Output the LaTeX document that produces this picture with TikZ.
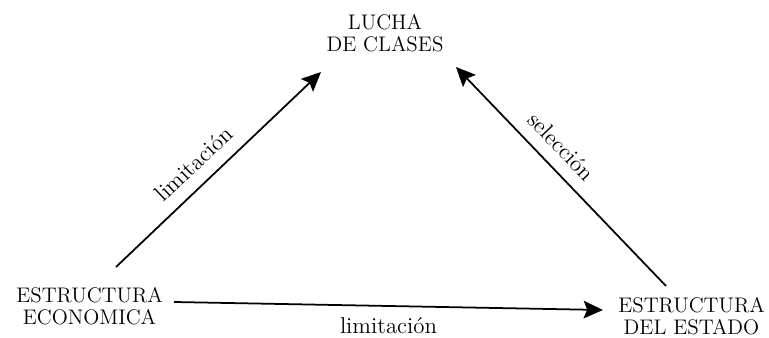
\documentclass[tikz,border=0pt]{standalone}
\usepackage{tikz}
\usetikzlibrary{arrows.meta,positioning,calc}
\tikzset{>=Stealth}
\tikzset{
  bloque/.style={align=center, inner sep=0pt, font=\fontsize{12}{12.5}\selectfont},
  etiqueta/.style={inner sep=3pt, font=\fontsize{13}{13.5}\selectfont},
  flecha/.style={->, line width=1pt, >={Stealth[length=11pt,width=10pt,inset=2pt]}}
}

\begin{document}
\begin{tikzpicture}[x=0.02cm, y=0.02cm]
\useasboundingbox (0,0) rectangle (769,338);

% Los tres bloques del triangulo
\node[bloque] (lucha) at (385,305) {LUCHA\\DE CLASES};
\node[bloque] (economica) at (89.5,32) {ESTRUCTURA\\ECONOMICA};
\node[bloque] (estado) at (691.5,21.5) {ESTRUCTURA\\DEL ESTADO};

% Extremos de las flechas (desplazados respecto a los bloques)
\coordinate (ecoArriba) at ($(economica)+(26.5,39)$);
\coordinate (ecoDerecha) at ($(economica)+(84.5,4)$);
\coordinate (estadoArriba) at ($(estado)+(-25.5,30.5)$);
\coordinate (estadoIzq) at ($(estado)+(-88.5,6.5)$);
\coordinate (luchaIzq) at ($(lucha)+(-64,-39)$);
\coordinate (luchaDer) at ($(lucha)+(71,-34)$);

% Flechas con sus rotulos
\draw[flecha] (ecoArriba) -- node[etiqueta, sloped, above=4pt, pos=0.45] {limitación} (luchaIzq);
\draw[flecha] (estadoArriba) -- node[etiqueta, sloped, above=4pt, pos=0.57] {selección} (luchaDer);
\draw[flecha] (ecoDerecha) -- node[etiqueta, below=3pt, pos=0.5] {limitación} (estadoIzq);

\end{tikzpicture}
\end{document}
